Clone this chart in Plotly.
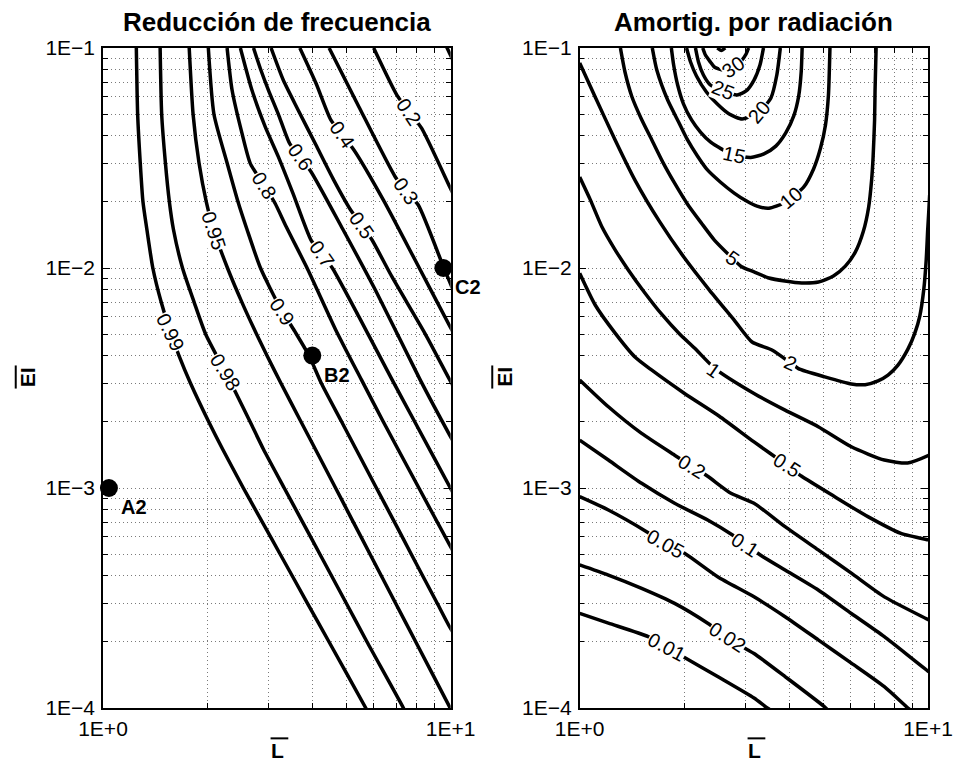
import math
import plotly.graph_objects as go

FONT = "Liberation Sans, Arial, Helvetica, sans-serif"

# ---------------- Left panel: frequency reduction contours ----------------
f099_L = [1.247, 1.258, 1.280, 1.303, 1.337, 1.391, 1.470, 1.562, 1.654, 1.784, 2.014, 2.209, 2.533, 2.873, 3.234, 3.870, 4.466, 5.700, 5.95]
f099_EI = [0.1, 0.05, 0.03, 0.02, 0.015, 0.01, 0.007, 0.00512, 0.004, 0.003, 0.002, 0.0015, 0.001, 0.0007, 0.0005, 0.0003, 0.0002, 0.0001, 0.000088]

f098_L = [1.460, 1.475, 1.512, 1.552, 1.594, 1.693, 1.828, 1.974, 2.248, 2.404, 2.649, 2.894, 3.321, 3.751, 4.207, 5.005, 5.744, 7.313, 7.6]
f098_EI = [0.1, 0.05, 0.03, 0.02, 0.015, 0.01, 0.007, 0.005, 0.00337, 0.00273, 0.002, 0.0015, 0.001, 0.0007, 0.0005, 0.0003, 0.0002, 0.0001, 0.000088]

f095_L = [1.770, 1.816, 1.889, 1.982, 2.085, 2.281, 2.508, 2.766, 2.962, 3.247, 3.711, 4.083, 4.667, 5.248, 5.864, 6.938, 7.933, 9.967, 10.3]
f095_EI = [0.1, 0.05, 0.03, 0.02, 0.01473, 0.01, 0.007, 0.005, 0.004, 0.003, 0.002, 0.0015, 0.001, 0.0007, 0.0005, 0.0003, 0.0002, 0.0001, 0.00009]

f090_L = [2.009, 2.085, 2.275, 2.445, 2.594, 2.838, 3.236, 3.570, 3.913, 4.243, 4.857, 5.345, 6.117, 6.894, 7.706, 9.141, 9.935, 10.47]
f090_EI = [0.1, 0.05, 0.03, 0.02, 0.015, 0.01, 0.00658, 0.00512, 0.004, 0.003, 0.002, 0.0015, 0.001, 0.0007, 0.0005, 0.0003, 0.0002335, 0.000204]

f080_L = [2.275, 2.351, 2.510, 2.652, 2.913, 3.125, 3.366, 3.888, 4.672, 5.541, 6.401, 8.104, 9.932, 10.27]
f080_EI = [0.1, 0.0644, 0.0410, 0.0299, 0.0236, 0.0197, 0.0154, 0.0098, 0.00523, 0.0031, 0.002, 0.001, 0.000551, 0.000501]

f070_L = [2.484, 2.681, 2.927, 3.193, 3.517, 3.966, 4.262, 4.572, 5.444, 6.789, 7.882, 9.935, 10.27]
f070_EI = [0.1, 0.0644, 0.0439, 0.0321, 0.0219, 0.0134, 0.01158, 0.00997, 0.00601, 0.0031, 0.002, 0.001014, 0.00092]

f060_L = [2.710, 2.838, 2.991, 3.193, 3.439, 3.690, 3.966, 4.892, 6.074, 8.173, 9.935, 10.27]
f060_EI = [0.1, 0.0803, 0.0644, 0.0501, 0.0369, 0.0318, 0.0274, 0.01504, 0.00794, 0.0031, 0.00174, 0.001585]

f050_L = [3.044, 3.300, 3.641, 4.099, 4.611, 5.157, 5.541, 5.943, 6.777, 8.433, 9.824, 10.27]
f050_EI = [0.1, 0.0715, 0.0523, 0.0362, 0.0251, 0.01835, 0.0157, 0.0134, 0.00913, 0.00505, 0.00321, 0.00282]

f040_L = [3.683, 4.099, 4.521, 4.883, 5.270, 6.401, 7.895, 9.935, 10.27]
f040_EI = [0.1, 0.0691, 0.0471, 0.0402, 0.0344, 0.0204, 0.0109, 0.00545, 0.00496]

f030_L = [4.471, 5.444, 6.925, 7.433, 8.070, 9.53, 9.935, 10.27]
f030_EI = [0.1, 0.0541, 0.0260, 0.0224, 0.01934, 0.01014, 0.00866, 0.00762]

f020_L = [6.006, 7.004, 7.592, 8.249, 9.935, 10.27]
f020_EI = [0.1, 0.0611, 0.0513, 0.0432, 0.0234, 0.0210]

f010_L = [9.74, 10.15]
f010_EI = [0.101, 0.088]

freq_label_text = ["0.99", "0.98", "0.95", "0.9", "0.8", "0.7", "0.6", "0.5", "0.4", "0.3", "0.2"]
freq_label_L = [1.562, 2.248, 2.085, 3.279, 2.913, 4.262, 3.690, 5.541, 4.883, 7.433, 7.592]
freq_label_EI = [0.00512, 0.00337, 0.01473, 0.00631, 0.0236, 0.01158, 0.0318, 0.0157, 0.0402, 0.0224, 0.0513]
freq_label_angle = [64, 58, 72, 56, 58, 55, 55, 55, 55, 55, 56]

point_names = ["A2", "B2", "C2"]
point_L = [1.04, 4.0, 9.53]
point_EI = [0.001, 0.004, 0.01]

# ---------------- Right panel: radiation damping contours ----------------
d001_L = [1.0, 1.209, 1.573, 1.778, 2.023, 2.489, 3.166, 3.456, 3.611]
d001_EI = [2.69e-4, 2.43e-4, 2.11e-4, 1.89e-4, 1.68e-4, 1.39e-4, 1.11e-4, 1.0e-4, 9.6e-5]

d002_L = [1.0, 1.209, 1.506, 1.873, 2.331, 2.652, 3.030, 3.166, 3.887, 5.054, 5.213]
d002_EI = [4.47e-4, 4.02e-4, 3.50e-4, 2.99e-4, 2.43e-4, 2.10e-4, 1.84e-4, 1.77e-4, 1.39e-4, 1.01e-4, 9.6e-5]

d005_L = [1.0, 1.209, 1.556, 1.766, 2.000, 2.489, 3.166, 3.887, 4.840, 6.024, 7.492, 8.756, 9.045]
d005_EI = [9.13e-4, 7.94e-4, 6.33e-4, 5.56e-4, 5.05e-4, 3.95e-4, 3.20e-4, 2.60e-4, 2.04e-4, 1.60e-4, 1.25e-4, 1.0e-4, 9.6e-5]

d01_L = [1.0, 1.209, 1.506, 1.873, 2.331, 2.746, 3.300, 3.887, 4.840, 6.024, 7.492, 10.07, 10.31]
d01_EI = [1.65e-3, 1.34e-3, 1.05e-3, 8.52e-4, 7.15e-4, 6.11e-4, 4.96e-4, 4.24e-4, 3.44e-4, 2.69e-4, 2.11e-4, 1.46e-4, 1.43e-4]

d02_L = [1.0, 1.209, 1.506, 1.873, 2.108, 2.331, 2.718, 3.166, 3.887, 4.840, 6.024, 7.492, 10.07, 10.31]
d02_EI = [3.10e-3, 2.34e-3, 1.77e-3, 1.41e-3, 1.25e-3, 1.13e-3, 9.46e-4, 8.52e-4, 6.67e-4, 5.23e-4, 4.10e-4, 3.20e-4, 2.51e-4, 2.46e-4]

d05_L = [1.0, 1.108, 1.264, 1.441, 1.608, 2.000, 2.517, 3.166, 3.931, 4.338, 5.398, 6.720, 8.361, 10.07, 10.31]
d05_EI = [9.46e-3, 6.79e-3, 5.06e-3, 3.94e-3, 3.44e-3, 2.69e-3, 2.12e-3, 1.62e-3, 1.27e-3, 1.13e-3, 9.13e-4, 7.41e-4, 6.22e-4, 5.80e-4, 5.75e-4]

d1_L = [1.0, 1.073, 1.158, 1.264, 1.379, 1.539, 1.717, 1.936, 2.136, 2.436, 3.166, 3.887, 4.840, 6.024, 7.492, 8.740, 10.07, 10.31]
d1_EI = [0.0259, 0.0204, 0.0154, 0.0121, 0.0098, 0.0077, 0.00618, 0.00501, 0.00433, 0.00351, 0.00269, 0.00226, 0.00190, 0.00154, 0.00134, 0.00130, 0.00141, 0.00144]

d2_L = [1.0, 1.108, 1.264, 1.441, 1.698, 2.000, 2.357, 2.777, 3.125, 3.564, 4.036, 4.246, 5.054, 6.024, 6.602, 7.189, 7.677, 8.199, 8.756, 9.166, 9.472, 9.721, 9.883, 9.980, 10.05, 10.11]
d2_EI = [0.0855, 0.0599, 0.0382, 0.0251, 0.0162, 0.0111, 0.00794, 0.00580, 0.00461, 0.00424, 0.00370, 0.00349, 0.00320, 0.00297, 0.00295, 0.00307, 0.00326, 0.00362, 0.00428, 0.00506, 0.00605, 0.00794, 0.0109, 0.0149, 0.0180, 0.0215]

d5_L = [1.309, 1.349, 1.413, 1.499, 1.611, 1.732, 1.873, 2.040, 2.236, 2.436, 2.741, 2.908, 3.166, 3.494, 3.880, 4.338, 4.850, 5.352, 5.790, 6.183, 6.516, 6.754, 6.888, 6.957, 7.025, 7.047, 7.096]
d5_EI = [0.1, 0.0778, 0.0599, 0.0481, 0.0382, 0.0303, 0.0243, 0.0195, 0.0160, 0.0134, 0.0111, 0.01016, 0.0096, 0.00901, 0.00873, 0.00855, 0.00864, 0.00920, 0.0102, 0.0118, 0.0146, 0.0189, 0.0251, 0.0320, 0.0471, 0.0644, 0.1]

d10_L = [1.616, 1.665, 1.789, 1.923, 2.040, 2.178, 2.327, 2.533, 2.777, 3.005, 3.229, 3.494, 3.855, 4.395, 4.693, 4.914, 5.078, 5.178, 5.230]
d10_EI = [0.1, 0.0794, 0.0580, 0.0461, 0.0382, 0.0323, 0.0279, 0.0246, 0.0219, 0.0202, 0.0191, 0.0187, 0.01975, 0.0233, 0.0282, 0.0351, 0.0447, 0.0611, 0.1]

d15_L = [1.833, 1.861, 1.911, 1.987, 2.095, 2.222, 2.373, 2.550, 2.777, 3.099, 3.381, 3.657, 3.905, 4.117, 4.254, 4.325, 4.352]
d15_EI = [0.1, 0.0837, 0.0679, 0.0556, 0.0471, 0.0415, 0.0374, 0.0348, 0.0326, 0.0318, 0.0330, 0.0358, 0.0411, 0.0491, 0.0605, 0.0778, 0.1]

d20_L = [2.027, 2.081, 2.164, 2.311, 2.484, 2.687, 2.927, 3.272, 3.540, 3.681, 3.767]
d20_EI = [0.1, 0.0864, 0.0746, 0.0631, 0.0556, 0.0501, 0.0476, 0.0512, 0.0593, 0.0754, 0.1]

d25_L = [2.150, 2.193, 2.266, 2.373, 2.584, 2.832, 3.005, 3.166, 3.293, 3.370]
d25_EI = [0.1, 0.0864, 0.0754, 0.0679, 0.0638, 0.0611, 0.0638, 0.0715, 0.0837, 0.1]

d30_L = [2.256, 2.296, 2.373, 2.435, 2.584, 2.759, 2.908, 3.005, 3.054]
d30_EI = [0.1, 0.0929, 0.0864, 0.0820, 0.0794, 0.0820, 0.0873, 0.0939, 0.1]

d35_L = [2.484, 2.550, 2.618]
d35_EI = [0.1, 0.0974, 0.1]

damp_label_text = ["30", "25", "20", "15", "10", "5", "2", "1", "0.5", "0.2", "0.1", "0.05", "0.02", "0.01"]
damp_label_L = [2.759, 2.584, 3.272, 2.777, 4.036, 2.741, 4.036, 2.420, 3.931, 2.108, 2.985, 1.766, 2.652, 1.778]
damp_label_EI = [0.0820, 0.0644, 0.0512, 0.0326, 0.0208, 0.0111, 0.00370, 0.00344, 0.00127, 0.00125, 5.51e-4, 5.56e-4, 2.10e-4, 1.89e-4]
damp_label_angle = [-35, 22, -50, 12, -40, 35, 25, 35, 33, 32, 33, 29, 33, 28]

x_tick_vals = [1, 10]
x_tick_text = ["1E+0", "1E+1"]
x_minor_vals = [2, 3, 4, 5, 6, 7, 8, 9]
y_tick_vals = [1e-4, 1e-3, 1e-2, 1e-1]
y_tick_text = ["1E\u22124", "1E\u22123", "1E\u22122", "1E\u22121"]
y_minor_vals = [2e-4, 3e-4, 4e-4, 5e-4, 6e-4, 7e-4, 8e-4, 9e-4,
                2e-3, 3e-3, 4e-3, 5e-3, 6e-3, 7e-3, 8e-3, 9e-3,
                2e-2, 3e-2, 4e-2, 5e-2, 6e-2, 7e-2, 8e-2, 9e-2]

# ---------------- Figure ----------------
fig = go.Figure()

LINE = dict(color="black", width=3.5, shape="spline", smoothing=0.6)

left_lines = [(f099_L, f099_EI), (f098_L, f098_EI), (f095_L, f095_EI), (f090_L, f090_EI),
              (f080_L, f080_EI), (f070_L, f070_EI), (f060_L, f060_EI), (f050_L, f050_EI),
              (f040_L, f040_EI), (f030_L, f030_EI), (f020_L, f020_EI), (f010_L, f010_EI)]
for L, E in left_lines:
    fig.add_trace(go.Scatter(x=L, y=E, mode="lines", line=LINE, xaxis="x", yaxis="y",
                             hoverinfo="skip", showlegend=False))

right_lines = [(d001_L, d001_EI), (d002_L, d002_EI), (d005_L, d005_EI), (d01_L, d01_EI),
               (d02_L, d02_EI), (d05_L, d05_EI), (d1_L, d1_EI), (d2_L, d2_EI), (d5_L, d5_EI),
               (d10_L, d10_EI), (d15_L, d15_EI), (d20_L, d20_EI), (d25_L, d25_EI),
               (d30_L, d30_EI), (d35_L, d35_EI)]
for L, E in right_lines:
    fig.add_trace(go.Scatter(x=L, y=E, mode="lines", line=LINE, xaxis="x2", yaxis="y2",
                             hoverinfo="skip", showlegend=False))

fig.add_trace(go.Scatter(x=point_L, y=point_EI, mode="markers",
                         marker=dict(size=18, color="black"), cliponaxis=False,
                         xaxis="x", yaxis="y", hoverinfo="skip", showlegend=False))

# contour labels
for t, L, E, a in zip(freq_label_text, freq_label_L, freq_label_EI, freq_label_angle):
    fig.add_annotation(x=math.log10(L), y=math.log10(E), xref="x", yref="y", text=t,
                       textangle=a, showarrow=False, bgcolor="white", borderpad=0,
                       xanchor="center", yanchor="middle",
                       font=dict(size=20, color="black", family=FONT))
for t, L, E, a in zip(damp_label_text, damp_label_L, damp_label_EI, damp_label_angle):
    fig.add_annotation(x=math.log10(L), y=math.log10(E), xref="x2", yref="y2", text=t,
                       textangle=a, showarrow=False, bgcolor="white", borderpad=0,
                       xanchor="center", yanchor="middle",
                       font=dict(size=20, color="black", family=FONT))

# point labels
for n, L, E in zip(point_names, point_L, point_EI):
    fig.add_annotation(x=math.log10(L), y=math.log10(E), xref="x", yref="y", text="<b>%s</b>" % n,
                       showarrow=False, xshift=25, yshift=-19,
                       font=dict(size=20, color="black", family=FONT))

# titles and axis labels
for xr, yr, t in [("x domain", "y domain", "Reducción de frecuencia"),
                  ("x2 domain", "y2 domain", "Amortig. por radiación")]:
    fig.add_annotation(x=0.5, y=1, xref=xr, yref=yr, text="<b>%s</b>" % t, showarrow=False,
                       xanchor="center", yanchor="middle", yshift=26,
                       font=dict(size=26, color="black", family=FONT))
    # x-axis label (L with overbar)
    fig.add_annotation(x=0.503, y=0, xref=xr, yref=yr, text="<b>L</b>", showarrow=False,
                       xanchor="center", yanchor="middle", yshift=-42,
                       font=dict(size=21, color="black", family=FONT))
    fig.add_shape(type="line", xref=xr, yref=yr, x0=0.482, x1=0.533, y0=-0.046, y1=-0.046,
                  line=dict(color="black", width=2))
    # y-axis label (EI with overbar)
    fig.add_annotation(x=-0.218, y=0.5015, xref=xr, yref=yr, text="<b>EI</b>", textangle=-90,
                       xanchor="center", yanchor="middle",
                       showarrow=False, font=dict(size=21, color="black", family=FONT))
    fig.add_shape(type="line", xref=xr, yref=yr, x0=-0.251, x1=-0.251, y0=0.484, y1=0.519,
                  line=dict(color="black", width=2))

GRID = dict(showgrid=True, gridcolor="#7a7a7a", griddash="1px,3px", gridwidth=1)


def xaxis_def(domain, anchor):
    return dict(type="log", range=[0, 1], domain=domain, anchor=anchor,
                tickmode="array", tickvals=x_tick_vals, ticktext=x_tick_text,
                ticks="inside", ticklen=7, tickwidth=1, tickcolor="black",
                showline=True, linecolor="black", linewidth=1.5, mirror="ticks",
                zeroline=False, ticklabelstandoff=1,
                tickfont=dict(size=21, color="black", family=FONT),
                minor=dict(tickmode="array", tickvals=x_minor_vals, ticks="inside", ticklen=5,
                           tickwidth=1, tickcolor="black", **GRID),
                **GRID)


def yaxis_def(anchor):
    return dict(type="log", range=[-4, -1], domain=[0, 1], anchor=anchor,
                tickmode="array", tickvals=y_tick_vals, ticktext=y_tick_text,
                ticks="inside", ticklen=7, tickwidth=1, tickcolor="black",
                showline=True, linecolor="black", linewidth=1.5, mirror="ticks",
                zeroline=False, ticklabelstandoff=2,
                tickfont=dict(size=21, color="black", family=FONT),
                minor=dict(tickmode="array", tickvals=y_minor_vals, ticks="inside", ticklen=5,
                           tickwidth=1, tickcolor="black", **GRID),
                **GRID)


fig.update_layout(
    width=965, height=764,
    margin=dict(l=103, r=29, t=48, b=56),
    paper_bgcolor="white", plot_bgcolor="white",
    showlegend=False,
    xaxis=xaxis_def([0, 0.4214], "y"),
    yaxis=yaxis_def("x"),
    xaxis2=xaxis_def([0.5778, 1.0], "y2"),
    yaxis2=yaxis_def("x2"),
    font=dict(family=FONT, color="black"),
)

fig.write_html("out.html")
